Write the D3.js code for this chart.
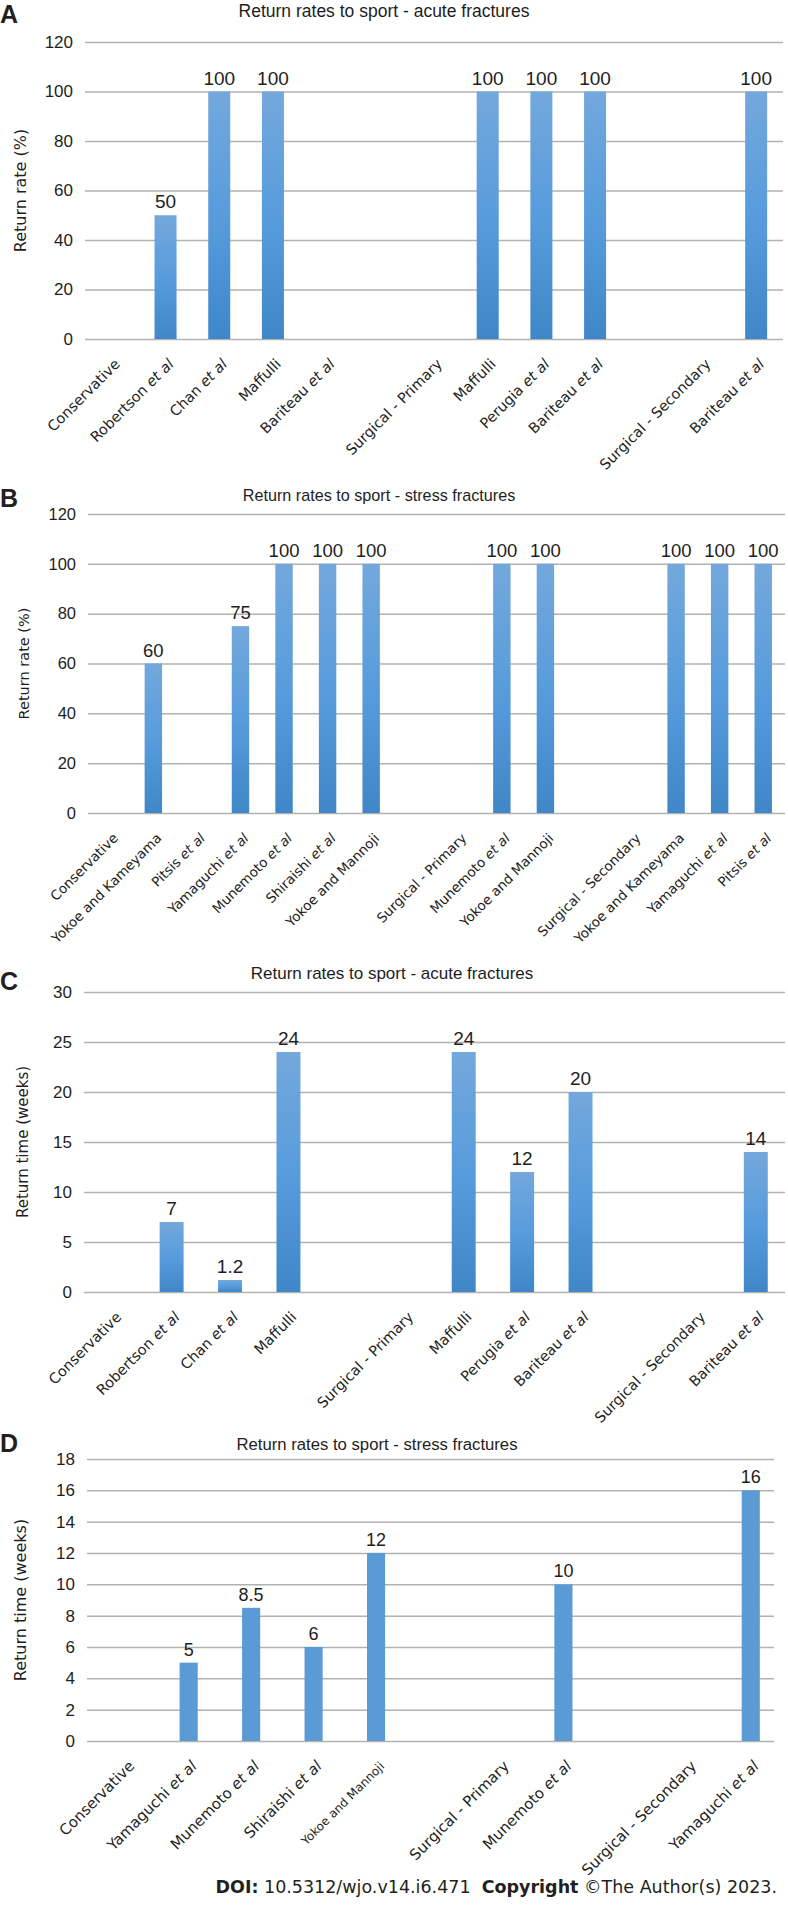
<!DOCTYPE html>
<html><head><meta charset="utf-8">
<script src="https://cdn.jsdelivr.net/npm/d3@7"></script>
<style>body{margin:0;background:#fff} svg{display:block}</style>
</head><body>
<svg id="chart" width="788" height="1915"></svg>
<script>
// ---------- DATA ----------
const catsA = ["Conservative","Robertson et al","Chan et al","Maffulli","Bariteau et al","","Surgical - Primary","Maffulli","Perugia et al","Bariteau et al","","Surgical - Secondary","Bariteau et al"];
const valsA = [null,50,100,100,null,null,null,100,100,100,null,null,100];
const ticksA = [0,20,40,60,80,100,120];

const catsB = ["Conservative","Yokoe and Kameyama","Pitsis et al","Yamaguchi et al","Munemoto et al","Shiraishi et al","Yokoe and Mannoji","","Surgical - Primary","Munemoto et al","Yokoe and Mannoji","","Surgical - Secondary","Yokoe and Kameyama","Yamaguchi et al","Pitsis et al"];
const valsB = [null,60,null,75,100,100,100,null,null,100,100,null,null,100,100,100];
const ticksB = [0,20,40,60,80,100,120];

const catsC = ["Conservative","Robertson et al","Chan et al","Maffulli","","Surgical - Primary","Maffulli","Perugia et al","Bariteau et al","","Surgical - Secondary","Bariteau et al"];
const valsC = [null,7,1.2,24,null,null,24,12,20,null,null,14];
const ticksC = [0,5,10,15,20,25,30];

const catsD = ["Conservative","Yamaguchi et al","Munemoto et al","Shiraishi et al","Yokoe and Mannoji","","Surgical - Primary","Munemoto et al","","Surgical - Secondary","Yamaguchi et al"];
const valsD = [null,5,8.5,6,12,null,null,10,null,null,16];
const ticksD = [0,2,4,6,8,10,12,14,16,18];

const titles = ["Return rates to sport - acute fractures","Return rates to sport - stress fractures","Return rates to sport - acute fractures","Return rates to sport - stress fractures"];
const yTitles = ["Return rate (%)","Return rate (%)","Return time (weeks)","Return time (weeks)"];
const letters = ["A","B","C","D"];

// ---------- LAYOUT ----------
const svg = d3.select("#chart");
const SANS = "'Liberation Sans', Arial, sans-serif";
const VERD = "'DejaVu Sans', Verdana, sans-serif";
const TXT = "#1e1e1e";

const defs = svg.append("defs");
const grad = defs.append("linearGradient").attr("id","barGrad").attr("x1",0).attr("y1",0).attr("x2",0).attr("y2",1);
grad.append("stop").attr("offset","0%").attr("stop-color","#73a8dc");
grad.append("stop").attr("offset","50%").attr("stop-color","#589cdc");
grad.append("stop").attr("offset","100%").attr("stop-color","#3f87c8");

const panels = [
  {cats:catsA, vals:valsA, ticks:ticksA, letterY:23, titleX:384, titleY:17, titleSize:17.5, yTitleX:20, yTitleSize:16,
   gx0:85, gx1:783, bx0:85, bx1:783, yTop:42, yBottom:339, barRatio:0.41, labelSize:14.5, valueSize:19, tickSize:17, fill:"url(#barGrad)"},
  {cats:catsB, vals:valsB, ticks:ticksB, letterY:507, titleX:379, titleY:501, titleSize:16.2, yTitleX:24, yTitleSize:14.5,
   gx0:88, gx1:785, bx0:88, bx1:785, yTop:514, yBottom:813, barRatio:0.40, labelSize:13.5, valueSize:18.5, tickSize:16.5, fill:"url(#barGrad)"},
  {cats:catsC, vals:valsC, ticks:ticksC, letterY:990, titleX:392, titleY:979, titleSize:17, yTitleX:23, yTitleSize:15,
   gx0:84, gx1:785, bx0:84, bx1:785, yTop:992, yBottom:1292, barRatio:0.41, labelSize:14.5, valueSize:19, tickSize:17, fill:"url(#barGrad)"},
  {cats:catsD, vals:valsD, ticks:ticksD, letterY:1452, titleX:377, titleY:1450, titleSize:16.7, yTitleX:20, yTitleSize:16,
   gx0:87, gx1:774, bx0:95, bx1:782, yTop:1459, yBottom:1741, barRatio:0.29, labelSize:15, valueSize:18, tickSize:17, fill:"#5b9bd5",
   small:{"Yokoe and Mannoji":12}}
];

function drawPanel(p, idx){
  const g = svg.append("g");
  const x = d3.scaleBand().domain(d3.range(p.cats.length)).range([p.bx0, p.bx1]);
  const y = d3.scaleLinear().domain([0, d3.max(p.ticks)]).range([p.yBottom, p.yTop]);

  // panel letter
  g.append("text").attr("x",0).attr("y",p.letterY).text(letters[idx])
    .attr("font-family",SANS).attr("font-weight","bold").attr("font-size",25).attr("fill","#231f20");
  // chart title
  g.append("text").attr("x",p.titleX).attr("y",p.titleY).attr("text-anchor","middle").text(titles[idx])
    .attr("font-family",SANS).attr("font-size",p.titleSize).attr("fill",TXT);
  // y axis title
  g.append("text").attr("transform",`translate(${p.yTitleX},${(p.yTop+p.yBottom)/2}) rotate(-90)`)
    .attr("text-anchor","middle").attr("dominant-baseline","central").text(yTitles[idx])
    .attr("font-family",VERD).attr("font-size",p.yTitleSize).attr("fill",TXT);

  // gridlines + y ticks
  const axis = d3.axisLeft(y).tickValues(p.ticks).tickSize(-(p.gx1-p.gx0)).tickPadding(12).tickFormat(d3.format("d"));
  g.append("g").attr("transform",`translate(${p.gx0},0)`).call(axis)
    .call(a=>a.select(".domain").remove())
    .call(a=>a.selectAll(".tick line").attr("stroke","#b2b2b2").attr("stroke-width",1.5))
    .call(a=>a.selectAll(".tick text").attr("font-family",SANS).attr("font-size",p.tickSize).attr("fill",TXT));

  // bars
  const data = p.vals.map((v,i)=>({v,i})).filter(d=>d.v!=null);
  const bw = x.bandwidth()*p.barRatio;
  g.selectAll("rect.bar").data(data).join("rect").attr("class","bar")
    .attr("x",d=>x(d.i)+(x.bandwidth()-bw)/2).attr("width",bw)
    .attr("y",d=>y(d.v)).attr("height",d=>y(0)-y(d.v)).attr("fill",p.fill);

  // value labels
  g.selectAll("text.val").data(data).join("text").attr("class","val")
    .attr("x",d=>x(d.i)+x.bandwidth()/2).attr("y",d=>y(d.v)-7).attr("text-anchor","middle")
    .text(d=>String(d.v)).attr("font-family",SANS).attr("font-size",p.valueSize).attr("fill",TXT);

  // category labels
  p.cats.forEach((c,i)=>{
    if(!c) return;
    const cx = x(i)+x.bandwidth()/2;
    const fs = (p.small && p.small[c]) || p.labelSize;
    const t = g.append("text").attr("transform",`translate(${cx+9},${p.yBottom+26}) rotate(-45)`)
      .attr("text-anchor","end").attr("font-family",VERD).attr("font-size",fs).attr("fill",TXT);
    const m = c.match(/^(.*?)(et al)$/);
    if(m){
      t.append("tspan").text(m[1]);
      t.append("tspan").attr("font-style","italic").text(m[2]);
    } else t.text(c);
  });
}
panels.forEach(drawPanel);

// footer
const foot = svg.append("text").attr("x",777).attr("y",1893).attr("text-anchor","end")
  .attr("font-family",VERD).attr("font-size",17.5).attr("fill","#231f20");
foot.append("tspan").attr("font-weight","bold").text("DOI:");
foot.append("tspan").text(" 10.5312/wjo.v14.i6.471\u00a0\u00a0");
foot.append("tspan").attr("font-weight","bold").text("Copyright");
foot.append("tspan").text(" \u00a9The Author(s) 2023.");
</script>
</body></html>
